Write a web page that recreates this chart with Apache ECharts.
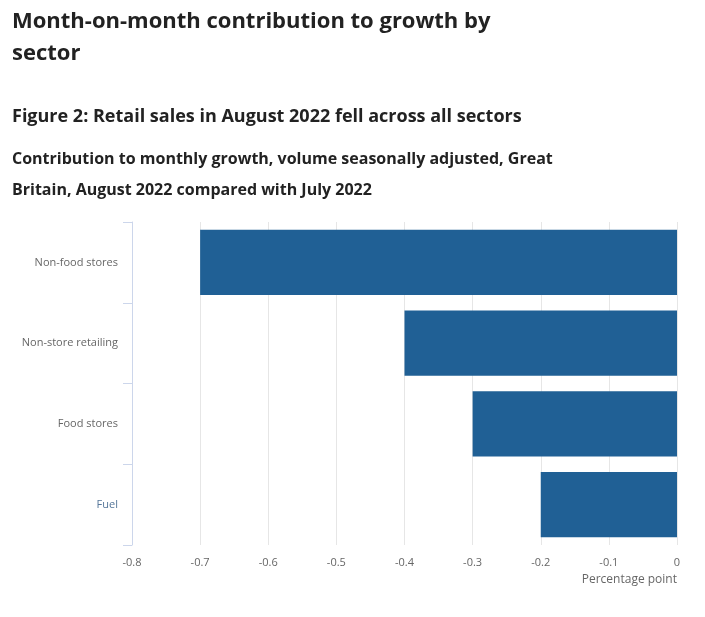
<!DOCTYPE html>
<html>
<head>
<meta charset="utf-8">
<script src="https://cdn.jsdelivr.net/npm/echarts@6/dist/echarts.min.js"></script>
<style>
html,body{margin:0;padding:0;background:#fff;}
#c{width:705px;height:617px;}
</style>
</head>
<body>
<div id="c"></div>
<script>
var categories = ['Non-food stores', 'Non-store retailing', 'Food stores', 'Fuel'];
var values = [-0.7, -0.4, -0.3, -0.2];
var xTicks = [-0.8, -0.7, -0.6, -0.5, -0.4, -0.3, -0.2, -0.1, 0];

var chart = echarts.init(document.getElementById('c'));
var font = '"Open Sans", sans-serif';
chart.setOption({
  animation: false,
  textStyle: {fontFamily: font},
  title: [
    {text: 'Month-on-month contribution to growth by\nsector', left: 7, top: 1,
     textStyle: {fontFamily: font, fontSize: 22, fontWeight: 'bold', color: '#222', lineHeight: 32}},
    {text: 'Figure 2: Retail sales in August 2022 fell across all sectors', left: 7, top: 103,
     textStyle: {fontFamily: font, fontSize: 18, fontWeight: 'bold', color: '#222'}},
    {text: 'Contribution to monthly growth, volume seasonally adjusted, Great\nBritain, August 2022 compared with July 2022', left: 7, top: 139,
     textStyle: {fontFamily: font, fontSize: 16, fontWeight: 'bold', color: '#222', lineHeight: 31}}
  ],
  grid: {left: 132, right: 28, top: 222, bottom: 72, containLabel: false},
  xAxis: {
    type: 'value', min: -0.8, max: 0, interval: 0.1,
    axisLine: {show: false}, axisTick: {show: false},
    splitLine: {show: true, lineStyle: {color: '#e6e6e6', width: 1}},
    axisLabel: {color: '#666', fontSize: 11, margin: 12, fontFamily: font,
      formatter: function (v) { var r = Math.round(v * 10) / 10; return xTicks.indexOf(r) >= 0 ? String(r) : ''; }}
  },
  yAxis: {
    type: 'category', data: categories, inverse: true, position: 'left',
    axisLine: {show: true, onZero: false, lineStyle: {color: '#ccd6eb'}},
    axisTick: {show: true, length: 9, lineStyle: {color: '#ccd6eb'}},
    axisLabel: {fontSize: 11, margin: 14, fontFamily: font,
      color: function (v) { return v === 'Fuel' ? '#56779a' : '#666'; }}
  },
  series: [{
    type: 'bar', data: values, barCategoryGap: '19%',
    itemStyle: {color: '#206095'}
  }],
  graphic: [{
    type: 'text', right: 28, top: 574,
    style: {text: 'Percentage point', fill: '#666', font: '12px "Open Sans", sans-serif'}
  }]
});
</script>
</body>
</html>
